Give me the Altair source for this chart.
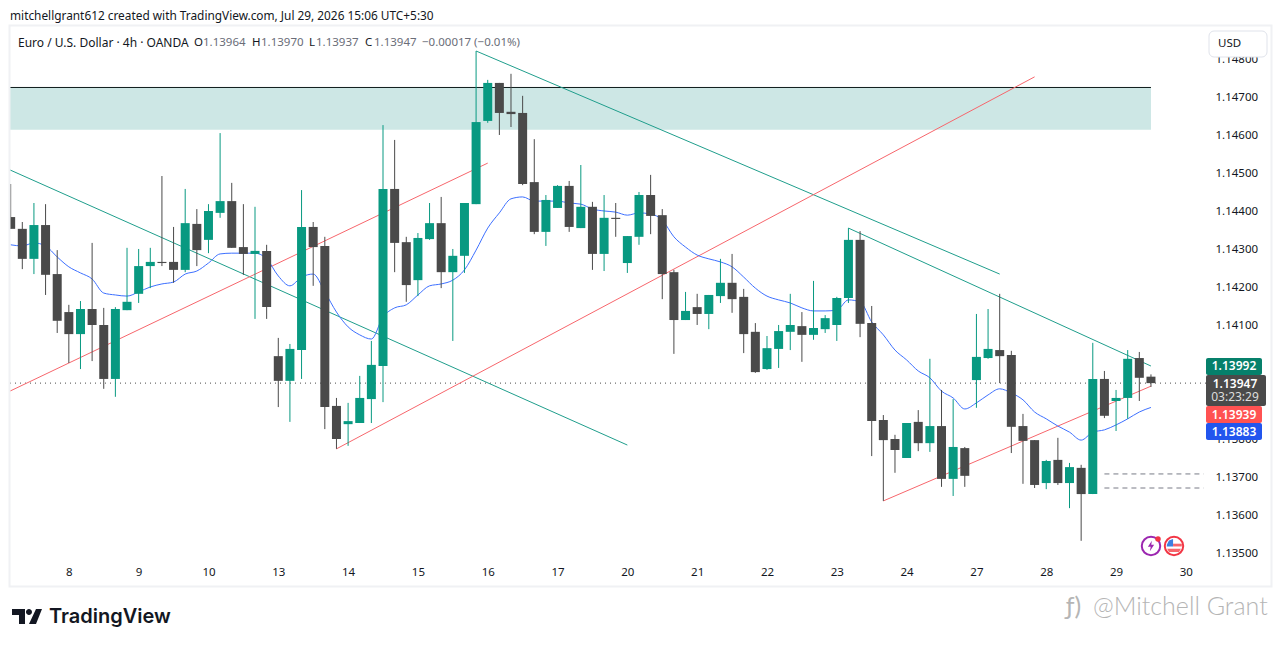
import altair as alt
import pandas as pd

first_bar = -1
opens = [1.14384,1.14353,1.14274,1.14363,1.14234,1.14134,1.14076,1.14142,1.14100,1.13958,1.14139,1.14182,1.14255,1.14266,1.14266,1.14245,1.14366,1.14324,1.14395,1.14426,1.14305,1.14287,1.14295,1.14018,1.13953,1.14034,1.14358,1.14308,1.13887,1.13839,1.13842,1.13905,1.13992,1.14458,1.14318,1.14218,1.14326,1.14368,1.14239,1.14282,1.14418,1.14637,1.14737,1.14661,1.14658,1.14476,1.14345,1.14408,1.14466,1.14355,1.14411,1.14287,1.14382,1.14263,1.14332,1.14442,1.14389,1.14239,1.14113,1.14147,1.14129,1.14176,1.14211,1.14174,1.14082,1.13984,1.14037,1.14082,1.14097,1.14074,1.14089,1.14100,1.14171,1.14324,1.14105,1.13850,1.13800,1.13750,1.13845,1.13789,1.13834,1.13695,1.13776,1.13955,1.14013,1.14034,1.14021,1.13834,1.13797,1.13684,1.13745,1.13684,1.13724,1.13655,1.13958,1.13900,1.13908,1.14013,1.13964]
highs = [1.14471,1.14371,1.14421,1.14418,1.14297,1.14153,1.14163,1.14316,1.14145,1.14147,1.14303,1.14300,1.14303,1.14492,1.14358,1.14458,1.14405,1.14418,1.14605,1.14474,1.14418,1.14411,1.14311,1.14066,1.14050,1.14455,1.14371,1.14332,1.13908,1.13895,1.13966,1.14058,1.14626,1.14587,1.14332,1.14342,1.14421,1.14437,1.14300,1.14421,1.14821,1.14745,1.14737,1.14761,1.14703,1.14589,1.14442,1.14468,1.14479,1.14521,1.14424,1.14442,1.14421,1.14334,1.14450,1.14495,1.14405,1.14245,1.14187,1.14182,1.14179,1.14274,1.14287,1.14195,1.14105,1.14071,1.14100,1.14182,1.14134,1.14216,1.14126,1.14174,1.14355,1.14347,1.14150,1.13863,1.13811,1.13842,1.13876,1.14011,1.13929,1.13905,1.13779,1.14129,1.14142,1.14182,1.14032,1.13866,1.13797,1.13745,1.13803,1.13737,1.13732,1.14053,1.13979,1.13929,1.14034,1.14029,1.13970]
lows = [1.14353,1.14247,1.14234,1.14179,1.14079,1.14000,1.13984,1.14005,1.13932,1.13911,1.14139,1.14158,1.14197,1.14255,1.14211,1.14239,1.14255,1.14289,1.14382,1.14303,1.14232,1.14116,1.14116,1.13884,1.13845,1.13958,1.14203,1.13826,1.13774,1.13782,1.13842,1.13842,1.13897,1.14239,1.14161,1.14176,1.14324,1.14197,1.14058,1.14237,1.14418,1.14632,1.14600,1.14621,1.14468,1.14339,1.14308,1.14408,1.14345,1.14355,1.14245,1.14242,1.14332,1.14237,1.14311,1.14339,1.14168,1.14024,1.14113,1.14100,1.14089,1.14158,1.14132,1.14026,1.13974,1.13982,1.13987,1.14034,1.14003,1.14061,1.14079,1.14058,1.14158,1.14068,1.13755,1.13637,1.13711,1.13750,1.13768,1.13766,1.13674,1.13650,1.13674,1.13882,1.14011,1.13947,1.13763,1.13682,1.13671,1.13668,1.13679,1.13618,1.13532,1.13655,1.13855,1.13821,1.13853,1.13900,1.13937]
closes = [1.14353,1.14274,1.14363,1.14232,1.14111,1.14076,1.14142,1.14100,1.13958,1.14142,1.14161,1.14255,1.14266,1.14263,1.14245,1.14368,1.14297,1.14400,1.14426,1.14303,1.14287,1.14295,1.14147,1.13953,1.14037,1.14358,1.14305,1.13884,1.13800,1.13847,1.13908,1.13995,1.14458,1.14316,1.14205,1.14329,1.14368,1.14239,1.14282,1.14421,1.14634,1.14737,1.14658,1.14655,1.14471,1.14345,1.14429,1.14466,1.14358,1.14411,1.14287,1.14382,1.14379,1.14334,1.14442,1.14387,1.14234,1.14113,1.14137,1.14129,1.14179,1.14211,1.14168,1.14076,1.13976,1.14039,1.14084,1.14100,1.14074,1.14092,1.14118,1.14171,1.14324,1.14103,1.13847,1.13797,1.13771,1.13842,1.13789,1.13834,1.13695,1.13779,1.13703,1.14016,1.14037,1.14018,1.13832,1.13795,1.13679,1.13742,1.13684,1.13726,1.13655,1.13958,1.13861,1.13908,1.14011,1.13961,1.13947]
ma = [1.14311,1.14308,1.14316,1.14308,1.14279,1.14253,1.14237,1.14221,1.14184,1.14179,1.14176,1.14187,1.14200,1.14208,1.14213,1.14234,1.14242,1.14263,1.14287,1.14289,1.14289,1.14289,1.14274,1.14229,1.14203,1.14226,1.14234,1.14187,1.14134,1.14095,1.14074,1.14063,1.14121,1.14145,1.14153,1.14179,1.14203,1.14208,1.14218,1.14245,1.14297,1.14355,1.14395,1.14432,1.14437,1.14426,1.14426,1.14426,1.14421,1.14418,1.14405,1.14400,1.14397,1.14389,1.14395,1.14392,1.14376,1.14332,1.14305,1.14284,1.14274,1.14266,1.14253,1.14226,1.14197,1.14176,1.14166,1.14158,1.14145,1.14137,1.14137,1.14139,1.14166,1.14161,1.14108,1.14074,1.14034,1.14008,1.13979,1.13961,1.13926,1.13908,1.13879,1.13895,1.13916,1.13932,1.13921,1.13903,1.13871,1.13853,1.13834,1.13818,1.13797,1.13818,1.13824,1.13837,1.13853,1.13871,1.13883]

day_ticks = [4,10,16,22,28,34,40,46,52,58,64,70,76,82,88,94,100]
day_labels = ['8','9','10','13','14','15','16','17','20','21','22','23','24','27','28','29','30']
price_ticks = [1.135,1.136,1.137,1.138,1.141,1.142,1.143,1.144,1.145,1.146,1.147,1.148]

teal_x1, teal_y1, teal_x2, teal_y2 = [-1.057,39,71],[1.14508,1.14821,1.14355],[52,84,97],[1.13784,1.14234,1.13992]
red_x1, red_y1, red_x2, red_y2 = [-1.057,27,74],[1.13926,1.13774,1.13637],[40,87,97],[1.14526,1.14753,1.13939]
zone_top, zone_bottom, zone_end = 1.14725, 1.14614, 97
dash_levels = [1.13708,1.13671]
dash_start = 93
last_price = 1.13947

X_DOM = [-1.057, 101.73]
Y_DOM = [1.134789, 1.148868]
W, H = 1196, 535
FONT = "Noto Sans"
GREEN, DARK = "#089981", "#4a4a4a"
INK = "#131722"

bars = pd.DataFrame({'i': list(range(first_bar, first_bar + len(opens))), 'o': opens, 'h': highs, 'l': lows, 'c': closes, 'ma': ma})
bars['dir'] = ['up' if c >= o else 'down' for o, c in zip(opens, closes)]

xs = alt.Scale(domain=X_DOM, nice=False, zero=False, padding=0)
ys = alt.Scale(domain=Y_DOM, nice=False, zero=False, padding=0)
y_axis = alt.Axis(orient='right', values=price_ticks, format='.5f', grid=False, domain=False, ticks=False,
        labelPadding=9, labelFontSize=11.5, labelFont=FONT, labelColor=INK, labelFlush=False, labelOverlap=False, labelOffset=1)
X = alt.X('i:Q', scale=xs, title=None, axis=alt.Axis(values=day_ticks, labelExpr="%s[(datum.value-4)/6]" % str(day_labels),
        grid=False, domain=False, ticks=False, labelPadding=5, labelFontSize=11.5, labelFont=FONT, labelColor=INK, labelFlush=False, labelOverlap=False))
Y = alt.Y('p:Q', scale=ys, title=None, axis=y_axis)
CLR = alt.Color('dir:N', scale=alt.Scale(domain=['up', 'down'], range=[GREEN, DARK]), legend=None)

zone = alt.Chart(pd.DataFrame({'i': [X_DOM[0]], 'i2': [zone_end], 'p': [zone_top], 'p2': [zone_bottom]})).mark_rect(color='#cde7e5').encode(x=X, x2='i2:Q', y=Y, y2='p2:Q')
zone_line = alt.Chart(pd.DataFrame({'i': [X_DOM[0]], 'i2': [zone_end], 'p': [zone_top]})).mark_rule(color='#0d1b1a', strokeWidth=1).encode(x=X, x2='i2:Q', y=Y)
dotted = alt.Chart(pd.DataFrame({'i': [X_DOM[0]], 'i2': [X_DOM[1]], 'p': [last_price]})).mark_rule(color=DARK, strokeWidth=1, strokeDash=[1, 4]).encode(x=X, x2='i2:Q', y=Y)
dashed = alt.Chart(pd.DataFrame({'i': [dash_start] * 2, 'i2': [X_DOM[1] - 0.2] * 2, 'p': dash_levels})).mark_rule(color='#787b86', strokeWidth=1, strokeDash=[5, 4]).encode(x=X, x2='i2:Q', y=Y)
teal = alt.Chart(pd.DataFrame({'i': teal_x1, 'p': teal_y1, 'i2': teal_x2, 'p2': teal_y2})).mark_rule(color='#1f9e8c', strokeWidth=1).encode(x=X, x2='i2:Q', y=Y, y2='p2:Q')
red = alt.Chart(pd.DataFrame({'i': red_x1, 'p': red_y1, 'i2': red_x2, 'p2': red_y2})).mark_rule(color='#f7666c', strokeWidth=1).encode(x=X, x2='i2:Q', y=Y, y2='p2:Q')
ma_line = alt.Chart(bars).mark_line(color='#3d70ff', strokeWidth=1, clip=True, interpolate='monotone').encode(x=X, y=alt.Y('ma:Q', scale=ys, title=None, axis=y_axis))
wick = alt.Chart(bars).mark_rule(strokeWidth=1, clip=True).encode(x=X, y=alt.Y('h:Q', scale=ys, title=None, axis=y_axis), y2='l:Q', color=CLR)
body = alt.Chart(bars).mark_bar(size=9, clip=True).encode(x=X, y=alt.Y('o:Q', scale=ys, title=None, axis=y_axis), y2='c:Q', color=CLR)


def px(v):
    return alt.value(v - 10)


def py(v):
    return alt.value(v - 26)


def text(t, x, y, size=11.5, color=INK, align='left', weight=400, font=FONT):
    return alt.Chart(pd.DataFrame({'t': [t]})).mark_text(align=align, baseline='middle', font=font, fontSize=size, color=color, fontWeight=weight).encode(
        x=px(x), y=py(y), text='t:N')


def box(x1, y1, x2, y2, **kw):
    return alt.Chart(pd.DataFrame({'a': [0]})).mark_rect(**kw).encode(x=px(x1), x2=px(x2), y=py(y1), y2=py(y2))


def sym(shape, x, y, size, **kw):
    return alt.Chart(pd.DataFrame({'a': [0]})).mark_point(shape=shape, size=size, **kw).encode(x=px(x), y=py(y))


GREY = '#6a6d78'
frame = box(9.5, 25.5, 1271.5, 586.5, fill='transparent', stroke='#f0f1f4', strokeWidth=2)
deco = [
    frame,
    text('mitchellgrant612 created with TradingView.com, Jul 29, 2026 15:06 UTC+5:30', 10, 15.5, 11.85),
    text('Euro / U.S. Dollar · 4h · OANDA', 18, 42.5, 12),
    text('O', 194, 42.5), text('1.13964', 203, 42.5, color=GREY),
    text('H', 252, 42.5), text('1.13970', 261, 42.5, color=GREY),
    text('L', 309, 42.5), text('1.13937', 316, 42.5, color=GREY),
    text('C', 365, 42.5), text('1.13947', 374, 42.5, color=GREY),
    text('−0.00017 (−0.01%)', 422, 42.5, color=GREY),
    box(1209, 31, 1267, 57, fill='white', stroke='#e0e3eb', strokeWidth=1, cornerRadius=5),
    text('USD', 1218, 44),
    box(1206, 358, 1262, 375, fill='#06806b', cornerRadius=2),
    text('1.13992', 1234, 366, 12, 'white', 'center', 600),
    box(1206, 406, 1262, 423, fill='#ff5252', cornerRadius=2),
    text('1.13939', 1234, 414.5, 12, 'white', 'center', 600),
    box(1206, 423, 1262, 440, fill='#2255ee', cornerRadius=2),
    text('1.13883', 1234, 431.5, 12, 'white', 'center', 600),
    box(1206, 375, 1266, 406, fill=DARK, cornerRadius=2),
    text('1.13947', 1235, 384, 12, 'white', 'center', 600),
    text('03:23:29', 1235, 397, 12, '#dddddd', 'center'),
    sym('M-1,-.5L-.133,-.5L-.133,.5L-.533,.5L-.533,-.1L-1,-.1Z M-.067,-.3a.2,.2 0 1 0 .4,0a.2,.2 0 1 0 -.4,0Z M.6,-.5L1,-.5L.6,.5L.133,.5Z',
        27, 616.5, 900, filled=True, color=INK, opacity=1),
    text('TradingView', 49, 617, 20, INK, weight=600, font='Inter'),
    text('ƒ)', 1066, 607, 25, '#b5b5b5', font='Lato'),
    text('@Mitchell Grant', 1093, 607, 25, '#b5b5b5', font='Lato', weight=300),
    sym('circle', 1151, 546, 340, filled=False, color='#9c27b0', strokeWidth=2, opacity=1),
    sym('M.15,-.9L-.55,.15L-.05,.15L-.2,.9L.55,-.2L.05,-.2Z', 1151, 546, 130, filled=True, color='#9c27b0', opacity=1),
    sym('circle', 1158, 539, 30, filled=True, color='#f23645', opacity=1),
    sym('circle', 1174, 546, 340, filled=True, fill='white', stroke='#f23645', strokeWidth=2, opacity=1),
    sym('M-.75,.3L.75,.3L.55,.65L-.55,.65Z', 1174, 546, 340, filled=True, color='#f7666c', opacity=1),
    sym('M-.1,-.25L.85,-.25L.85,.05L-.1,.05Z', 1174, 546, 340, filled=True, color='#f7666c', opacity=1),
    sym('M-.75,-.2L-.55,-.6L-.1,-.75L-.1,.05L-.8,.05Z', 1174, 546, 340, filled=True, color='#3d7fe0', opacity=1),
]

chart = alt.layer(zone, zone_line, dotted, dashed, teal, red, ma_line, wick, body, *deco).properties(
    width=W, height=H, padding={'left': 2, 'top': 18, 'right': 67, 'bottom': 78},
    autosize=alt.AutoSizeParams(type='none'), background='white'
).configure_view(stroke=None)

chart.save("out.html", embed_options={"renderer": "svg", "actions": False})
